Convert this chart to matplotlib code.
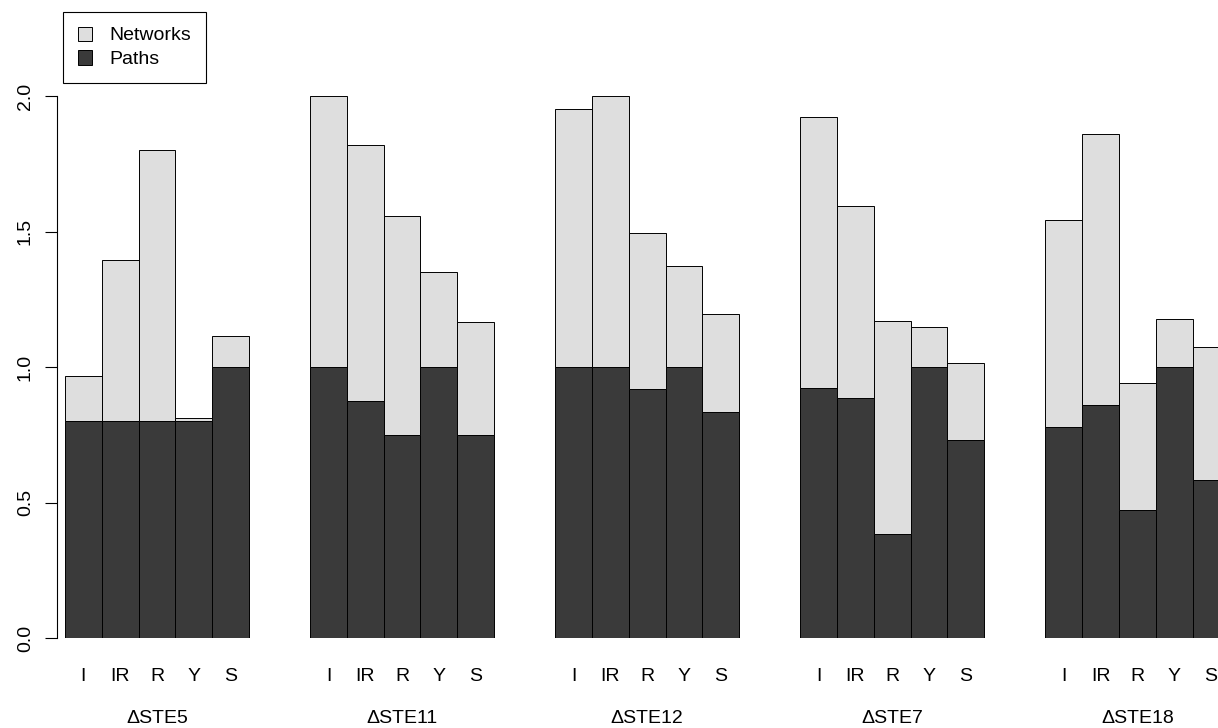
import numpy as np
import matplotlib.pyplot as plt
from matplotlib.patches import Patch

plt.rcParams['font.family'] = ['Liberation Sans', 'DejaVu Sans']
plt.rcParams['font.size'] = 14

groups = ["\u0394STE5", "\u0394STE11", "\u0394STE12", "\u0394STE7", "\u0394STE18"]
cats = ["I", "IR", "R", "Y", "S"]

# lower (dark) part of each stack
paths = [
    [0.800, 0.800, 0.800, 0.800, 1.000],
    [1.000, 0.875, 0.750, 1.000, 0.750],
    [1.000, 1.000, 0.917, 1.000, 0.833],
    [0.923, 0.885, 0.385, 1.000, 0.731],
    [0.778, 0.861, 0.472, 1.000, 0.583],
]
# upper (light) part of each stack
networks = [
    [0.167, 0.595, 1.000, 0.010, 0.116],
    [1.000, 0.943, 0.806, 0.351, 0.416],
    [0.951, 1.000, 0.578, 0.371, 0.364],
    [1.000, 0.710, 0.785, 0.149, 0.282],
    [0.765, 1.000, 0.470, 0.176, 0.490],
]

light = "#dedede"
dark = "#3a3a3a"
gap = 1.66  # space between groups, in bar widths

W, H = 1218, 728
fig = plt.figure(figsize=(W / 100, H / 100), dpi=100)
ax = fig.add_axes([57 / W, (H - 638) / H, (W - 57) / W, (638 - 96) / H])

centers = []
for g in range(len(groups)):
    x = g * (len(cats) + gap) + np.arange(len(cats)) + 0.5
    centers.append(x)
    p = np.array(paths[g])
    n = np.array(networks[g])
    ax.bar(x, p, width=1, color=dark, edgecolor="black", linewidth=0.7)
    ax.bar(x, n, width=1, bottom=p, color=light, edgecolor="black", linewidth=0.7)
    # group name under the category labels
    ax.text(x.mean(), -0.164, groups[g], ha="center", va="bottom",
            transform=ax.get_xaxis_transform(), fontsize=14)

ax.set_xlim(-8 / 36.8, (W - 65) / 36.8)
ax.set_ylim(0, 2)
ax.set_xticks(np.concatenate(centers))
ax.set_xticklabels(cats * len(groups))
ax.tick_params(axis="x", length=0, pad=21.5)
ax.set_yticks([0, 0.5, 1.0, 1.5, 2.0])
ax.set_yticklabels(["0.0", "0.5", "1.0", "1.5", "2.0"])
ax.tick_params(axis="y", length=8.6, width=0.8, pad=8, labelrotation=90)
for lab in ax.get_yticklabels():
    lab.set_verticalalignment("center")
for s in ["top", "right", "bottom"]:
    ax.spines[s].set_visible(False)
ax.spines["left"].set_bounds(0, 2)

handles = [Patch(facecolor=light, edgecolor="black", linewidth=0.7, label="Networks"),
           Patch(facecolor=dark, edgecolor="black", linewidth=0.7, label="Paths")]
leg = fig.legend(handles=handles, loc="upper left", bbox_to_anchor=(63 / W, 1 - 12 / H),
                 bbox_transform=fig.transFigure, borderaxespad=0, fancybox=False,
                 framealpha=1, edgecolor="black", handlelength=0.75, handleheight=0.75,
                 handletextpad=0.9, borderpad=0.75, labelspacing=0.3, fontsize=14)
leg.get_frame().set_linewidth(0.8)

fig.savefig("out.png", dpi=100)
